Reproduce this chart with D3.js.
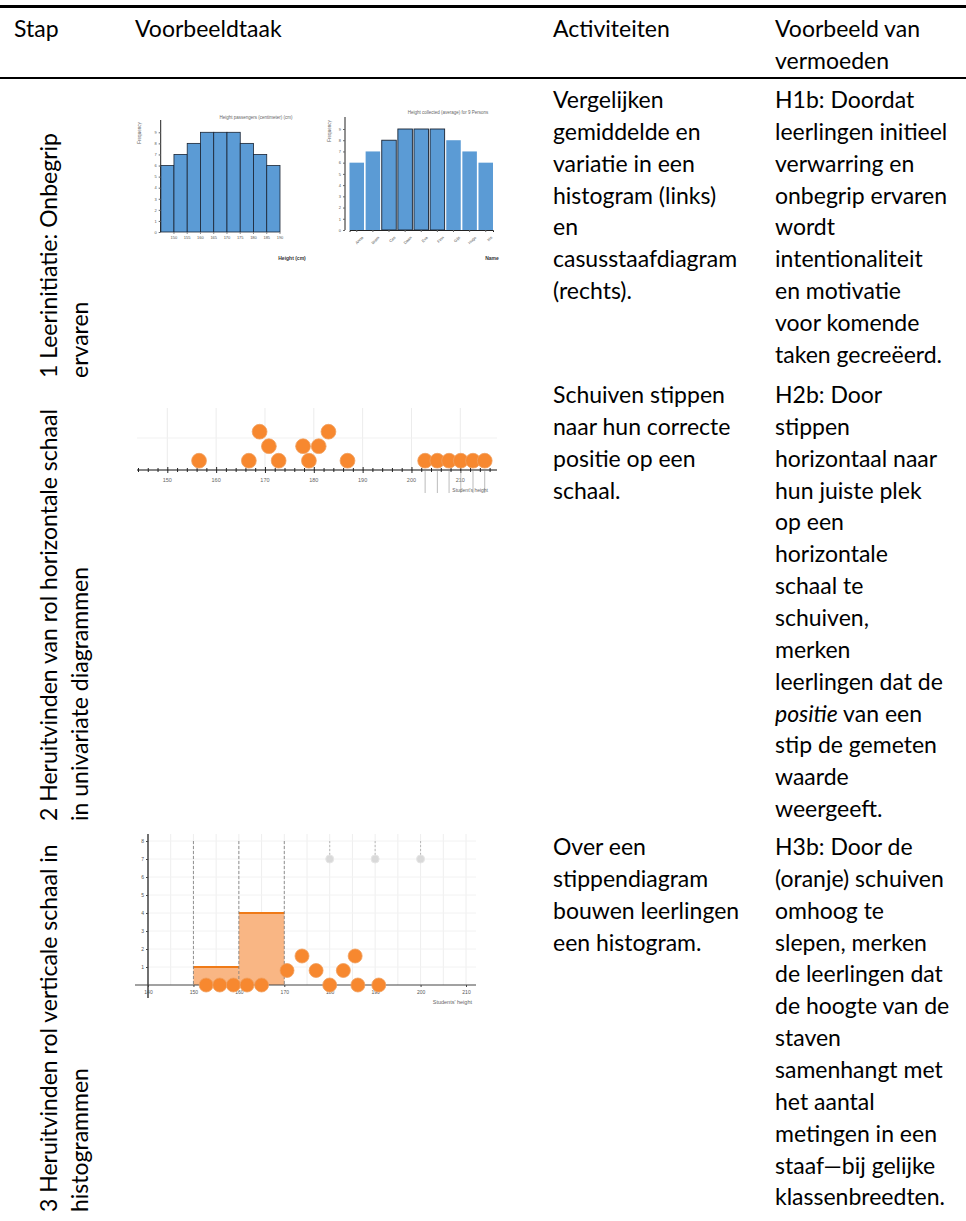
<!DOCTYPE html>
<html><head><meta charset="utf-8">
<script src="https://cdn.jsdelivr.net/npm/d3@7"></script>
<style>body{margin:0;background:#fff}svg{display:block}</style>
</head><body>
<script>
// ---------- DATA ----------
const headerCols = ["Stap", "Voorbeeldtaak", "Activiteiten", "Voorbeeld van\nvermoeden"];
const steps = [
  ["1 Leerinitiatie: Onbegrip", "ervaren"],
  ["2 Heruitvinden van rol horizontale schaal", "in univariate diagrammen"],
  ["3 Heruitvinden rol verticale schaal in", "histogrammen"]
];
const activities = [
  ["Vergelijken", "gemiddelde en", "variatie in een", "histogram (links)", "en", "casusstaafdiagram", "(rechts)."],
  ["Schuiven stippen", "naar hun correcte", "positie op een", "schaal."],
  ["Over een", "stippendiagram", "bouwen leerlingen", "een histogram."]
];
const hypotheses = [
  ["H1b: Doordat", "leerlingen initieel", "verwarring en", "onbegrip ervaren", "wordt", "intentionaliteit", "en motivatie", "voor komende", "taken gecreëerd."],
  ["H2b: Door", "stippen", "horizontaal naar", "hun juiste plek", "op een", "horizontale", "schaal te", "schuiven,", "merken", "leerlingen dat de", "*positie* van een", "stip de gemeten", "waarde", "weergeeft."],
  ["H3b: Door de", "(oranje) schuiven", "omhoog te", "slepen, merken", "de leerlingen dat", "de hoogte van de", "staven", "samenhangt met", "het aantal", "metingen in een", "staaf—bij gelijke", "klassenbreedten."]
];

// row 1 – histogram (left) and case bar chart (right)
const histBins = ["150", "155", "160", "165", "170", "175", "180", "185", "190"];
const histCounts = [6, 7, 8, 9, 9, 9, 8, 7, 6];
const caseNames = ["Anna", "Bram", "Cas", "Daan", "Eva", "Finn", "Gijs", "Hugo", "Iris"];
const caseCounts = [6, 7, 8, 9, 9, 9, 8, 7, 6];
const caseHighlighted = [2, 3, 4, 5];

// row 2 – dot plot
const dotTicks = [150, 160, 170, 180, 190, 200, 210];
const dotValues = [156.5, 166.7, 168.9, 170.8, 172.8, 177.8, 179.0, 181.0, 183.0, 186.9];
const dotStack  = [0, 0, 2, 1, 0, 1, 0, 1, 2, 0];
const parkedValues = [202.8, 205.3, 207.7, 210.1, 212.6, 215.0];

// row 3 – histogram built over dot plot
const histTicks = [140, 150, 160, 170, 180, 190, 200, 210];
const yTicks3 = [1, 2, 3, 4, 5, 6, 7, 8];
const binStarts = [150, 160];
const binHeights = [1, 4];
const binEdges = [150, 160, 170];
const handleValues = [180, 190, 200];
const handleLevel = 7;
const pileValues = [152.8, 155.8, 158.8, 161.8, 165.0, 170.6, 173.9, 177.0, 180.0, 183.0, 185.6, 186.2, 190.8];
const pileStack  = [0, 0, 0, 0, 0, 1, 2, 1, 0, 1, 2, 0, 0];

// ---------- DRAW ----------
const W = 966, H = 1221;
const svg = d3.select("body").append("svg").attr("width", W).attr("height", H);
const FONT = "Lato, 'Noto Sans', sans-serif";
const FS = 23, LH = 31.85;
const colX = [14, 135, 553, 775];

svg.append("rect").attr("x", 0).attr("y", 5).attr("width", W).attr("height", 3).attr("fill", "#000");
svg.append("rect").attr("x", 0).attr("y", 77).attr("width", W).attr("height", 2).attr("fill", "#000");

function lines(g, arr, x, y0) {
  arr.forEach((ln, i) => {
    const t = g.append("text").attr("x", x).attr("y", y0 + i * LH)
      .attr("font-family", FONT).attr("font-size", FS).attr("fill", "#000");
    ln.split("*").forEach((part, j) => {
      if (!part) return;
      t.append("tspan").attr("font-style", j % 2 ? "italic" : "normal").text(part);
    });
  });
}
const head = svg.append("g");
headerCols.forEach((h, i) => lines(head, h.split("\n"), colX[i], 37));

const rowBase = [108, 403, 855];
const rowStart = [378, 821, 1212];
activities.forEach((a, r) => lines(svg, a, colX[2], rowBase[r]));
hypotheses.forEach((a, r) => lines(svg, a, colX[3], rowBase[r]));
steps.forEach((s, r) => {
  s.forEach((ln, i) => {
    svg.append("text").attr("transform", `translate(${57 + i * 31},${rowStart[r]}) rotate(-90)`)
      .attr("font-family", FONT).attr("font-size", FS).attr("fill", "#000").text(ln);
  });
});

const tiny = (sel, size, fill) => sel.attr("font-family", "Liberation Sans, Arial, sans-serif").attr("font-size", size).attr("fill", fill || "#555");

// ---- Chart 1: histogram ----
{
  const g = svg.append("g");
  const x = d3.scaleBand().domain(histBins).range([160.7, 280]).paddingInner(0);
  const y = d3.scaleLinear().domain([0, 9]).range([232, 132.3]);
  g.selectAll("rect").data(histCounts).join("rect")
    .attr("x", (d, i) => x(histBins[i])).attr("y", d => y(d))
    .attr("width", x.bandwidth()).attr("height", d => y(0) - y(d))
    .attr("fill", "#5b9bd5").attr("stroke", "#1a2433").attr("stroke-width", 0.8);
  const ya = g.append("g").attr("transform", "translate(160.7,0)")
    .call(d3.axisLeft(y).ticks(9).tickSize(2).tickPadding(2));
  ya.select(".domain").attr("d", "M0,120V232").attr("stroke", "#222");
  ya.selectAll("line").attr("stroke", "#666");
  tiny(ya.selectAll("text"), 4);
  const xa = g.append("g").attr("transform", "translate(0,232)")
    .call(d3.axisBottom(x).tickSize(2).tickPadding(2));
  xa.select(".domain").remove();
  xa.selectAll("line").attr("stroke", "#888");
  xa.selectAll(".tick").attr("transform", d => `translate(${x(d) + x.bandwidth()},0)`);
  tiny(xa.selectAll("text"), 4);
  tiny(g.append("text").attr("x", 256).attr("y", 119).attr("text-anchor", "middle"), 4.5, "#666").text("Height passengers (centimeter) (cm)");
  tiny(g.append("text").attr("transform", "translate(141,133) rotate(-90)").attr("text-anchor", "middle"), 4.5, "#666").text("Frequency");
  tiny(g.append("text").attr("x", 292).attr("y", 260).attr("text-anchor", "middle").attr("font-weight", "bold"), 5, "#333").text("Height (cm)");
}

// ---- Chart 2: case bar chart ----
{
  const g = svg.append("g");
  const x = d3.scaleBand().domain(caseNames).range([349.5, 493]).paddingInner(0.1);
  const y = d3.scaleLinear().domain([0, 9]).range([230, 129]);
  g.selectAll("rect").data(caseCounts).join("rect")
    .attr("x", (d, i) => x(caseNames[i])).attr("y", d => y(d))
    .attr("width", x.bandwidth()).attr("height", d => y(0) - y(d))
    .attr("fill", "#5b9bd5")
    .attr("stroke", (d, i) => caseHighlighted.includes(i) ? "#1a2433" : "none").attr("stroke-width", 0.9);
  const ya = g.append("g").attr("transform", "translate(345,0)")
    .call(d3.axisLeft(y).ticks(9).tickSize(2).tickPadding(2));
  ya.select(".domain").attr("d", "M0,117V230").attr("stroke", "#222");
  ya.selectAll("line").attr("stroke", "#666");
  tiny(ya.selectAll("text"), 4);
  const xa = g.append("g").attr("transform", "translate(0,230)")
    .call(d3.axisBottom(x).tickSize(2).tickPadding(2));
  xa.select(".domain").attr("stroke", "#222");
  xa.selectAll("line").attr("stroke", "#666");
  tiny(xa.selectAll("text"), 4).attr("text-anchor", "end").attr("transform", "translate(2,3) rotate(-45)");
  tiny(g.append("text").attr("x", 448).attr("y", 114).attr("text-anchor", "middle"), 4.5, "#666").text("Height collected (average) for 9 Persons");
  tiny(g.append("text").attr("transform", "translate(331,131) rotate(-90)").attr("text-anchor", "middle"), 4.5, "#666").text("Frequency");
  tiny(g.append("text").attr("x", 492).attr("y", 260).attr("text-anchor", "middle").attr("font-weight", "bold"), 5, "#333").text("Name");
}

// ---- Chart 3: dot plot ----
{
  const g = svg.append("g");
  const x = d3.scaleLinear().domain([150, 210]).range([167.3, 460.3]);
  const axY = 470, step = 14.5, r = 7.4;
  g.selectAll(".gv").data(dotTicks).join("line")
    .attr("x1", d => x(d)).attr("x2", d => x(d)).attr("y1", 408).attr("y2", axY)
    .attr("stroke", "#ececec").attr("stroke-width", 1);
  g.append("line").attr("x1", 137).attr("x2", 497).attr("y1", 438).attr("y2", 438).attr("stroke", "#f1f1f1");
  const ax = g.append("g").attr("transform", `translate(0,${axY})`)
    .call(d3.axisBottom(x).tickValues(d3.range(144, 218, 2)).tickSize(0).tickFormat(""));
  ax.select(".domain").attr("d", "M137,0H497").attr("stroke", "#111").attr("stroke-width", 1.2);
  ax.selectAll(".tick line").attr("y1", d => d % 10 === 0 ? -3 : -2).attr("y2", d => d % 10 === 0 ? 3 : 2).attr("stroke", "#222");
  tiny(g.selectAll(".lbl").data(dotTicks).join("text").attr("x", d => x(d)).attr("y", 482).attr("text-anchor", "middle"), 5.5, "#666").text(d => d);
  g.selectAll(".pl").data(parkedValues).join("line")
    .attr("x1", d => x(d)).attr("x2", d => x(d)).attr("y1", axY + 1).attr("y2", 493)
    .attr("stroke", "#aaa").attr("stroke-width", 0.8);
  tiny(g.append("text").attr("x", 488).attr("y", 492).attr("text-anchor", "end"), 5, "#666").text("Student's height");
  const dots = dotValues.map((v, i) => ({v, s: dotStack[i]})).concat(parkedValues.map(v => ({v, s: 0})));
  g.selectAll(".dot").data(dots).join("circle")
    .attr("cx", d => x(d.v)).attr("cy", d => axY - 9.3 - d.s * step).attr("r", r)
    .attr("fill", "#f7882f").attr("stroke", "#f0a060").attr("stroke-width", 0.8);
}

// ---- Chart 4: histogram over dot plot ----
{
  const g = svg.append("g");
  const x = d3.scaleLinear().domain([140, 210]).range([148, 466]);
  const y = d3.scaleLinear().domain([0, 8]).range([985, 841]);
  g.selectAll(".gv").data(d3.range(145, 215, 5)).join("line")
    .attr("x1", d => x(d)).attr("x2", d => x(d)).attr("y1", 834).attr("y2", y(0))
    .attr("stroke", "#eeeeee");
  g.selectAll(".gh").data(yTicks3).join("line")
    .attr("x1", 148).attr("x2", 476).attr("y1", d => y(d)).attr("y2", d => y(d))
    .attr("stroke", "#f2f2f2");
  g.selectAll(".bar").data(binHeights).join("rect")
    .attr("x", (d, i) => x(binStarts[i])).attr("y", d => y(d))
    .attr("width", (d, i) => x(binStarts[i] + 10) - x(binStarts[i])).attr("height", d => y(0) - y(d))
    .attr("fill", "#f9b684");
  g.selectAll(".bartop").data(binHeights).join("line")
    .attr("x1", (d, i) => x(binStarts[i])).attr("x2", (d, i) => x(binStarts[i] + 10))
    .attr("y1", d => y(d)).attr("y2", d => y(d)).attr("stroke", "#ef7a17").attr("stroke-width", 2);
  g.selectAll(".edge").data(binEdges).join("line")
    .attr("x1", d => x(d)).attr("x2", d => x(d)).attr("y1", y(8)).attr("y2", y(0))
    .attr("stroke", "#777").attr("stroke-width", 0.8).attr("stroke-dasharray", "3,2");
  g.selectAll(".stem").data(handleValues).join("line")
    .attr("x1", d => x(d)).attr("x2", d => x(d)).attr("y1", y(8)).attr("y2", y(handleLevel))
    .attr("stroke", "#aaa").attr("stroke-width", 0.8).attr("stroke-dasharray", "2,2");
  g.selectAll(".handle").data(handleValues).join("circle")
    .attr("cx", d => x(d)).attr("cy", y(handleLevel)).attr("r", 4)
    .attr("fill", "#d9d9d9").attr("stroke", "#e6e6e6");
  const ya = g.append("g").attr("transform", "translate(148,0)")
    .call(d3.axisLeft(y).tickValues(yTicks3).tickSize(2).tickPadding(2));
  ya.select(".domain").attr("d", "M0,834V998").attr("stroke", "#111").attr("stroke-width", 1.2);
  ya.selectAll("line").attr("stroke", "#444");
  tiny(ya.selectAll("text"), 5);
  const xa = g.append("g").attr("transform", "translate(0,985)")
    .call(d3.axisBottom(x).tickValues(histTicks).tickSize(2).tickPadding(3));
  xa.select(".domain").attr("d", "M135,0H476").attr("stroke", "#444");
  xa.selectAll("line").attr("stroke", "#444");
  tiny(xa.selectAll("text"), 5);
  tiny(g.append("text").attr("x", 472).attr("y", 1004).attr("text-anchor", "end"), 5.5, "#666").text("Students' height");
  g.selectAll(".pdot").data(pileValues).join("circle")
    .attr("cx", d => x(d)).attr("cy", (d, i) => y(0) - pileStack[i] * 14.5).attr("r", 7)
    .attr("fill", "#f7882f").attr("stroke", "#f0a060").attr("stroke-width", 0.8);
}
</script>
</body></html>
